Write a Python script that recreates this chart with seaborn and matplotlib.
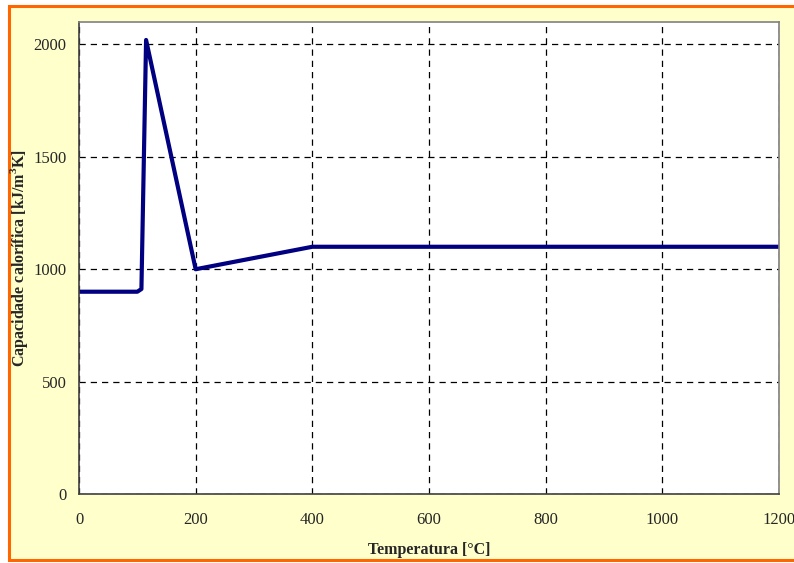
import seaborn as sns
import pandas as pd
import matplotlib.pyplot as plt
from matplotlib.patches import Rectangle

# datos
temperatura = [0, 100, 107, 115, 200, 400, 1200]
capacidade = [900, 900, 912, 2020, 1000, 1100, 1100]
xticks = [0, 200, 400, 600, 800, 1000, 1200]
yticks = [0, 500, 1000, 1500, 2000]

sns.set_style('white')
plt.rcParams['font.family'] = ['Liberation Serif', 'DejaVu Serif']
plt.rcParams['mathtext.fontset'] = 'custom'
plt.rcParams['mathtext.rm'] = 'Liberation Serif'
plt.rcParams['mathtext.bf'] = 'Liberation Serif:bold'

df = pd.DataFrame({'T': temperatura, 'C': capacidade})

fig = plt.figure(figsize=(7.94, 5.63), dpi=100, facecolor='white')
# marco naranja con fondo crema
fig.patches.append(Rectangle((8.5 / 794, 1 - 559.5 / 563), 1.05, (559.5 - 5.5) / 563,
                             transform=fig.transFigure, facecolor='#FFFFCC',
                             edgecolor='#FF6600', linewidth=2.2, zorder=-10))

ax = fig.add_axes([79 / 794, 1 - 494 / 563, 700 / 794, 472 / 563])
ax.set_facecolor('white')
sns.lineplot(data=df, x='T', y='C', ax=ax, color='#000080', linewidth=3,
             sort=False, estimator=None)

ax.set_xlim(0, 1200)
ax.set_ylim(0, 2100)
ax.set_xticks(xticks)
ax.set_yticks(yticks)
ax.grid(True, color='black', linestyle=(0, (5, 4)), linewidth=0.9)
ax.set_axisbelow(True)
for s in ['top', 'right']:
    ax.spines[s].set_color('#808080')
for s in ['left', 'bottom']:
    ax.spines[s].set_color('#404040')
for s in ax.spines.values():
    s.set_linewidth(1.2)
ax.tick_params(axis='both', direction='out', length=4, width=1, color='#404040',
               labelsize=12, pad=5)
ax.tick_params(axis='x', pad=9)

ax.set_xlabel('Temperatura [°C]', fontsize=11.5, fontweight='bold')
ax.set_ylabel('Capacidade calorífica [kJ/m$^\\mathbf{3}$K]', fontsize=11.5,
              fontweight='bold')
ax.xaxis.set_label_coords(0.5, -(542 - 494) / 472)
ax.yaxis.set_label_coords(-(79 - 30) / 700, 0.5)

fig.savefig('out.png', dpi=100, facecolor='white')
